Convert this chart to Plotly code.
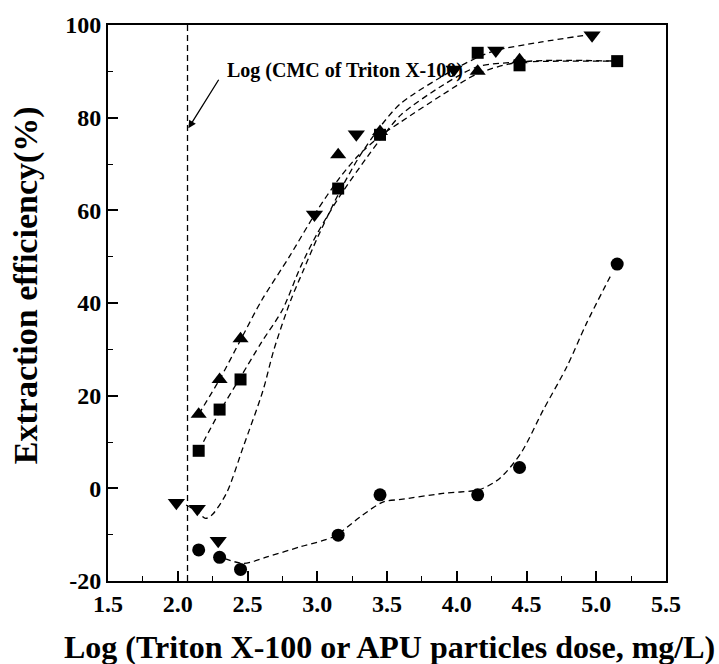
import plotly.graph_objects as go

# ---- data ----
x_tri_up = [2.15, 2.30, 2.45, 3.15, 3.45, 4.15, 4.45]
y_tri_up = [16.0, 23.5, 32.3, 72.0, 77.0, 90.0, 92.5]

x_sq = [2.15, 2.30, 2.45, 3.15, 3.45, 4.15, 4.45, 5.15]
y_sq = [8.1, 17.0, 23.5, 64.7, 76.3, 94.0, 91.3, 92.2]

x_tri_dn = [1.99, 2.14, 2.29, 2.98, 3.28, 3.98, 4.28, 4.97]
y_tri_dn = [-3.1, -4.4, -11.3, 59.1, 76.4, 90.4, 94.5, 97.8]

x_circ = [2.15, 2.30, 2.45, 3.15, 3.45, 4.15, 4.45, 5.15]
y_circ = [-13.3, -14.9, -17.5, -10.1, -1.4, -1.4, 4.5, 48.4]

# fitted (dashed) curves
fit_up_x = [2.15, 2.30, 2.45, 2.60, 2.80, 3.00, 3.16, 3.30, 3.45, 3.60, 3.90, 4.15, 4.45, 5.15]
fit_up_y = [16.0, 23.5, 32.0, 40.5, 50.0, 60.0, 67.0, 72.0, 76.0, 79.1, 85.0, 89.5, 92.0, 92.2]

fit_sq_x = [2.15, 2.30, 2.45, 2.60, 2.75, 2.88, 3.00, 3.16, 3.36, 3.47, 3.60, 3.90, 4.15, 4.45, 5.15]
fit_sq_y = [8.1, 16.5, 24.0, 31.5, 38.5, 47.8, 55.0, 63.0, 71.6, 76.0, 80.6, 87.0, 91.0, 92.0, 92.2]

fit_dn_x = [2.06, 2.14, 2.20, 2.25, 2.35, 2.47, 2.61, 2.69, 2.81, 2.90, 3.00, 3.16, 3.30, 3.45, 3.60, 3.98, 4.15, 4.28, 4.60, 4.97]
fit_dn_y = [-3.6, -5.0, -6.5, -5.6, -1.0, 9.0, 21.0, 30.0, 40.6, 47.0, 54.0, 64.0, 71.5, 78.0, 83.1, 90.4, 93.0, 94.5, 96.3, 98.0]

fit_ci_x = [2.27, 2.47, 2.64, 2.88, 3.12, 3.31, 3.475, 3.60, 3.90, 4.17, 4.31, 4.46, 4.62, 4.79, 4.93, 5.10]
fit_ci_y = [-14.4, -16.2, -14.8, -12.6, -10.4, -6.1, -2.9, -2.4, -1.1, -0.2, 2.2, 7.6, 16.9, 26.3, 35.6, 45.7]

cmc_x = 2.07
x_ticks = [1.5, 2.0, 2.5, 3.0, 3.5, 4.0, 4.5, 5.0, 5.5]
y_ticks = [-20, 0, 20, 40, 60, 80, 100]

FONT = "Liberation Serif"
dash = "6px,4px"

fig = go.Figure()

for fx, fy in [(fit_up_x, fit_up_y), (fit_sq_x, fit_sq_y), (fit_dn_x, fit_dn_y), (fit_ci_x, fit_ci_y)]:
    fig.add_trace(go.Scatter(x=fx, y=fy, mode="lines",
                             line=dict(color="black", width=1.3, dash=dash, shape="spline", smoothing=0.8),
                             showlegend=False, hoverinfo="skip"))

fig.add_trace(go.Scatter(x=x_tri_up, y=y_tri_up, mode="markers",
                         marker=dict(symbol="triangle-up", size=14, color="black"), showlegend=False))
fig.add_trace(go.Scatter(x=x_sq, y=y_sq, mode="markers",
                         marker=dict(symbol="square", size=12, color="black"), showlegend=False))
fig.add_trace(go.Scatter(x=x_tri_dn, y=y_tri_dn, mode="markers",
                         marker=dict(symbol="triangle-down", size=15, color="black"), showlegend=False))
fig.add_trace(go.Scatter(x=x_circ, y=y_circ, mode="markers",
                         marker=dict(symbol="circle", size=13, color="black"), showlegend=False))

# CMC vertical dashed line
fig.add_trace(go.Scatter(x=[cmc_x, cmc_x], y=[-20, 100], mode="lines",
                         line=dict(color="black", width=1.3, dash=dash),
                         showlegend=False, hoverinfo="skip"))

fig.add_annotation(x=2.076, y=77.7, ax=2.30, ay=88.5, axref="x", ayref="y",
                   text="", showarrow=True, arrowhead=2, arrowsize=1.2, arrowwidth=1.3,
                   arrowcolor="black")
fig.add_annotation(x=2.34, y=90.2, xanchor="left", yanchor="middle", text="Log (CMC of Triton X-100)",
                   showarrow=False, font=dict(family=FONT, size=20, color="black", weight="bold"))

# axis titles
fig.add_annotation(xref="paper", yref="paper", x=0.504, y=-0.118, xanchor="center", yanchor="middle",
                   text="Log (Triton X-100 or APU particles dose, mg/L)", showarrow=False,
                   font=dict(family=FONT, size=32, color="black", weight="bold"))
fig.add_annotation(xref="paper", yref="paper", x=-0.147, y=0.532, xanchor="center", yanchor="middle",
                   text="Extraction efficiency(%)", textangle=-90, showarrow=False,
                   font=dict(family=FONT, size=34, color="black", weight="bold"))

axis_common = dict(showgrid=False, zeroline=False, showline=True, linecolor="black", linewidth=2,
                   mirror=True, ticks="inside", tickcolor="black", tickwidth=1.5, ticklen=10,
                   tickfont=dict(family=FONT, size=24, color="black", weight="bold"))

fig.update_xaxes(range=[1.5, 5.5], tickvals=x_ticks, ticktext=[f"{v:.1f}" for v in x_ticks],
                 minor=dict(ticks="inside", ticklen=5, tickcolor="black", tickwidth=1.2, dtick=0.25),
                 **axis_common)
fig.update_yaxes(range=[-20, 100], tickvals=y_ticks, ticktext=[str(v) for v in y_ticks],
                 minor=dict(ticks="inside", ticklen=5, tickcolor="black", tickwidth=1.2, dtick=10),
                 **axis_common)

fig.update_layout(width=719, height=664, plot_bgcolor="white", paper_bgcolor="white",
                  margin=dict(l=108, r=53, t=25, b=83))

fig.write_html("out.html", config={"displayModeBar": False},
               post_script="document.body.style.margin='0';document.body.style.overflow='hidden';")
